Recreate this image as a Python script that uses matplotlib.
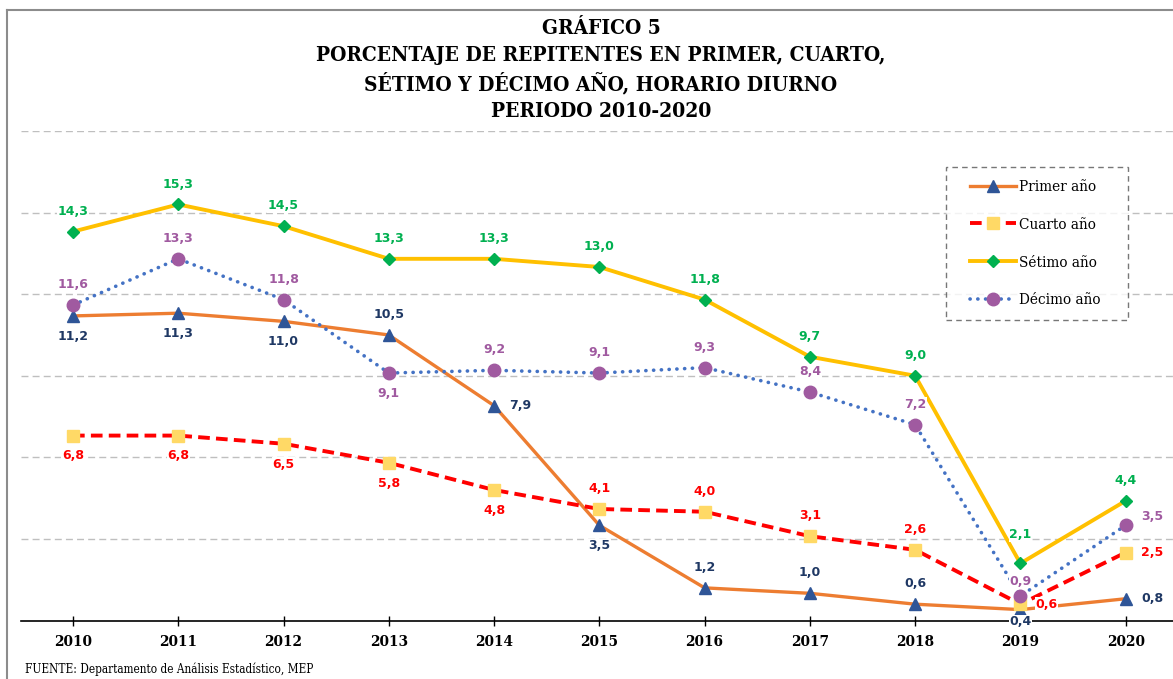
import matplotlib
matplotlib.use("Agg")
import matplotlib.pyplot as plt
from matplotlib.lines import Line2D
from matplotlib.legend_handler import HandlerLine2D

years = [2010, 2011, 2012, 2013, 2014, 2015, 2016, 2017, 2018, 2019, 2020]
primer = [11.2, 11.3, 11.0, 10.5, 7.9, 3.5, 1.2, 1.0, 0.6, 0.4, 0.8]
cuarto = [6.8, 6.8, 6.5, 5.8, 4.8, 4.1, 4.0, 3.1, 2.6, 0.6, 2.5]
setimo = [14.3, 15.3, 14.5, 13.3, 13.3, 13.0, 11.8, 9.7, 9.0, 2.1, 4.4]
decimo = [11.6, 13.3, 11.8, 9.1, 9.2, 9.1, 9.3, 8.4, 7.2, 0.9, 3.5]

# label placement per point: t = above, b = below, r = right (variants nudge a bit)
pos_primer = ['b', 'b', 'b', 't', 'r', 'b', 't', 't', 't', 'bs', 'r']
pos_cuarto = ['b', 'b', 'b', 'b', 'b', 't', 't', 't', 't', 'r', 'r']
pos_setimo = ['t', 't', 't', 't', 't', 't', 't', 't', 't', 'tt', 't']
pos_decimo = ['t', 't', 't', 'b', 't', 't', 't', 't', 't', 'ts', 'ru']

title_lines = ["GRÁFICO 5",
               "PORCENTAJE DE REPITENTES EN PRIMER, CUARTO,",
               "SÉTIMO Y DÉCIMO AÑO, HORARIO DIURNO",
               "PERIODO 2010-2020"]
source = "FUENTE: Departamento de Análisis Estadístico, MEP"

W, H = 1173, 679
fig = plt.figure(figsize=(W / 100, H / 100), dpi=100)
ax = fig.add_axes([21 / W, (H - 620.5) / H, (W - 21) / W, 489.5 / H])

serif = dict(family='DejaVu Serif', stretch='condensed')

offsets = {
    't': ((0, 10), 'center', 'bottom'),
    'tt': ((0, 16), 'center', 'bottom'),
    'ts': ((0, 6), 'center', 'bottom'),
    'b': ((0, -10), 'center', 'top'),
    'bs': ((0, -4), 'center', 'top'),
    'r': ((11, 0), 'left', 'center'),
    'ru': ((11, 6), 'left', 'center'),
}

series = [
    (primer, 'Primer año', dict(color='#ED7D31', lw=2.4, ls='-', marker='^', ms=9,
                                mfc='#2F5597', mec='#2F5597'), '#1F3864', pos_primer),
    (cuarto, 'Cuarto año', dict(color='#FF0000', lw=2.8, ls=(0, (3, 1.6)), marker='s', ms=8,
                                mfc='#FFD966', mec='#FFD966'), '#FF0000', pos_cuarto),
    (setimo, 'Sétimo año', dict(color='#FFC000', lw=2.8, ls='-', marker='D', ms=6.5,
                                mfc='#00B050', mec='#00B050'), '#00B050', pos_setimo),
    (decimo, 'Décimo año', dict(color='#4472C4', lw=2.6, ls=(0, (0.05, 2.1)), marker='o', ms=9,
                                mfc='#A05AA0', mec='#A05AA0', dash_capstyle='round'), '#A05AA0', pos_decimo),
]

for vals, name, style, lcol, positions in series:
    ax.plot(years, vals, label=name, zorder=3, **style)
    for x, v, p in zip(years, vals, positions):
        txt = f"{v:.1f}".replace('.', ',')
        off, ha, va = offsets[p]
        ax.annotate(txt, (x, v), xytext=off, textcoords='offset points',
                    ha=ha, va=va, fontsize=9, fontweight='bold', color=lcol,
                    family='DejaVu Sans', zorder=5,
                    bbox=dict(boxstyle='square,pad=0.05', fc='white', ec='none'))

ax.set_xlim(2009.506, 2020.45)
ax.set_ylim(0, 18)
ax.set_yticks([3, 6, 9, 12, 15, 18])
ax.yaxis.grid(True, color='#BFBFBF', ls=(0, (5, 3)), lw=1)
ax.set_axisbelow(True)
ax.tick_params(axis='y', length=0, labelleft=False)
ax.set_xticks(years)
ax.set_xticklabels([str(y) for y in years], fontweight='bold', fontsize=11, **serif)
ax.tick_params(axis='x', direction='inout', length=7, width=1, pad=7)
for s in ['left', 'right', 'top']:
    ax.spines[s].set_visible(False)
ax.spines['bottom'].set_linewidth(1.2)
ax.patch.set_alpha(0)

leg = fig.legend(loc='upper left', bbox_to_anchor=(946 / W, 1 - 318 / H, 182 / W, 151 / H),
                 mode='expand', prop=dict(size=11, **serif), frameon=True, fancybox=False,
                 labelspacing=1.56, handlelength=3.75, handletextpad=0.2,
                 borderpad=0.85, borderaxespad=0,
                 handler_map={Line2D: HandlerLine2D(xpad=0.75)})
fr = leg.get_frame()
fr.set_edgecolor('#555555')
fr.set_linestyle((0, (4, 3)))
fr.set_linewidth(1)

for txt, base in zip(title_lines, [34.3, 61, 90, 116.7]):
    fig.text(601 / W, 1 - base / H, txt, ha='center', va='baseline',
             fontweight='bold', fontsize=15, **serif)
fig.text(25 / W, 1 - 673 / H, source, ha='left', va='baseline', fontsize=8.5, **serif)

# partial frame around the picture
fig.add_artist(Line2D([7 / W, 7 / W], [0, 1 - 10 / H], color='#8C8C8C', lw=1.5,
                      transform=fig.transFigure))
fig.add_artist(Line2D([7 / W, 1], [1 - 10 / H, 1 - 10 / H], color='#8C8C8C', lw=1.5,
                      transform=fig.transFigure))

fig.savefig('out.png', dpi=100)
